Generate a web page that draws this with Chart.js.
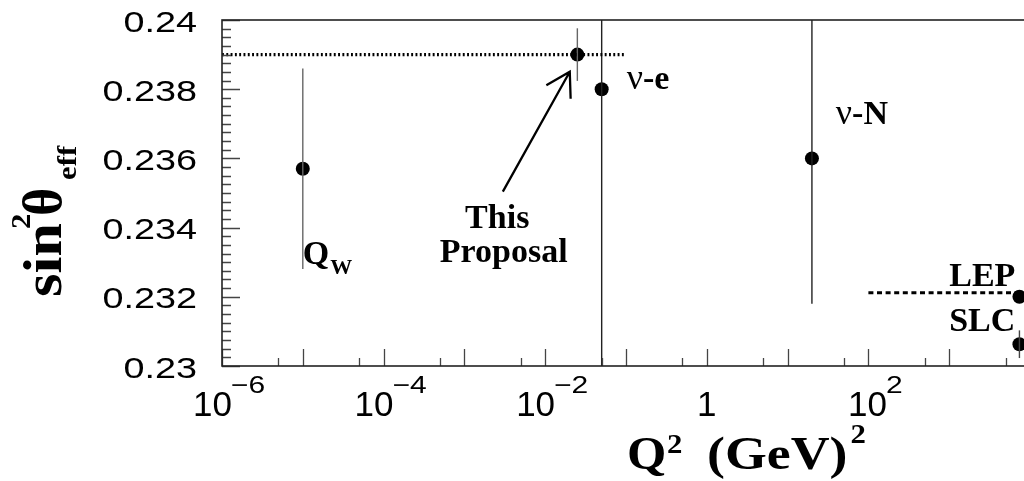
<!DOCTYPE html>
<html>
<head>
<meta charset="utf-8">
<script src="https://cdn.jsdelivr.net/npm/chart.js@4.4.0/dist/chart.umd.min.js"></script>
<style>
    html, body { margin: 0; padding: 0; background: #fff; overflow: hidden; }
    #wrap { width: 1040px; height: 481px; }
</style>
</head>
<body>
<div id="wrap"><canvas id="plot" width="1040" height="481"></canvas></div>
<script>
// measurements: Q^2 in GeV^2, sin^2(theta_eff) and its error
const names = ["Q_W", "This Proposal", "nu-e", "nu-N", "LEP", "SLC"];
const q2 = [1e-5, 0.025, 0.05, 20, 7400, 7400];
const sin2 = [0.2357, 0.239, 0.238, 0.236, 0.232, 0.23063];
const errs = [0.0029, 0.00076, 0.009, 0.0042, 0, 0.0004];

// reference lines
const proposalLineQ2 = [1e-6, 0.1];
const proposalLineVal = 0.239;
const lepLineQ2 = [100, 7400];
const lepLineVal = 0.23212;

// axes
const yTicks = [0.23, 0.232, 0.234, 0.236, 0.238, 0.24];
const yTickLabels = ["0.23", "0.232", "0.234", "0.236", "0.238", "0.24"];
const xDecades = [-6, -5, -4, -3, -2, -1, 0, 1, 2, 3, 4];
const xLabelExps = [-6, -4, -2, 0, 2];

const barColors = ["#666", "#666", "#222", "#222", "#222", "#444"];

function txt(ctx, s, x, y, font, sx, align) {
    ctx.save();
    ctx.font = font;
    ctx.textAlign = align || "left";
    ctx.textBaseline = "alphabetic";
    ctx.translate(x, y);
    ctx.scale(sx || 1, 1);
    ctx.fillText(s, 0, 0);
    const w = ctx.measureText(s).width * (sx || 1);
    ctx.restore();
    return w;
}

const serifB = px => "bold " + px + "px 'Liberation Serif', 'Times New Roman', serif";
const serif = px => px + "px 'Liberation Serif', 'Times New Roman', serif";
const sans = px => px + "px 'Liberation Sans', Arial, sans-serif";

const decorations = {
    id: "decorations",
    afterDatasetsDraw(chart) {
        const { ctx, chartArea: a, scales: { x, y } } = chart;
        const px = v => x.getPixelForValue(v);
        const py = v => y.getPixelForValue(v);
        ctx.save();

        // tick marks, drawn inward
        ctx.strokeStyle = "#444";
        ctx.lineWidth = 1.3;
        ctx.beginPath();
        for (let i = 0; i <= 40; i++) {
            const yy = Math.round(py(0.23 + i * 0.00025)) + 0.5;
            ctx.moveTo(a.left, yy);
            ctx.lineTo(a.left + (i % 8 === 0 ? 18 : 9), yy);
        }
        xDecades.forEach(e => {
            const xx = Math.round(px(Math.pow(10, e))) + 0.5;
            ctx.moveTo(xx, a.bottom);
            ctx.lineTo(xx, a.bottom - 17);
            const m = 5 * Math.pow(10, e);
            if (m < x.max) {
                const xm = Math.round(px(m)) + 0.5;
                ctx.moveTo(xm, a.bottom);
                ctx.lineTo(xm, a.bottom - 8);
            }
        });
        ctx.stroke();

        // frame
        ctx.strokeStyle = "#222";
        ctx.lineWidth = 1.6;
        ctx.strokeRect(a.left, a.top, a.right - a.left, a.bottom - a.top);

        ctx.fillStyle = "#000";

        // y tick labels
        yTicks.forEach((v, i) => {
            txt(ctx, yTickLabels[i], 197, py(v) + 11.5, sans(30), 1.26, "right");
        });

        // x tick labels: powers of ten
        xLabelExps.forEach(e => {
            const xx = px(Math.pow(10, e));
            if (e === 0) {
                txt(ctx, "1", xx, 416, sans(35), 1, "center");
                return;
            }
            const ex = e < 0 ? "\u2212" + (-e) : String(e);
            ctx.font = sans(35);
            const w1 = ctx.measureText("10").width;
            ctx.font = sans(24);
            const w2 = ctx.measureText(ex).width * 1.25;
            const left = xx + 7.5 - (w1 + w2) / 2;
            txt(ctx, "10", left, 416, sans(35));
            txt(ctx, ex, left + w1 - 1, 393, sans(24), 1.25);
        });

        // point labels
        let w = txt(ctx, "Q", px(1e-5), py(0.23295), serifB(34));
        txt(ctx, "W", px(1e-5) + w + 1, py(0.23295) + 10, serifB(22));
        txt(ctx, "This", px(2.55e-3), py(0.233988), serifB(34), 1, "center");
        txt(ctx, "Proposal", px(3.07e-3), py(0.233006), serifB(34), 1, "center");
        w = txt(ctx, "\u03bd", px(0.102), py(0.238006), serif(36));
        txt(ctx, "-e", px(0.102) + w, py(0.238006), serifB(34));
        w = txt(ctx, "\u03bd", px(39.5), py(0.236994), serif(36));
        txt(ctx, "-N", px(39.5) + w, py(0.236994), serifB(34));
        txt(ctx, "LEP", px(1000), py(0.232312), serifB(34));
        txt(ctx, "SLC", px(1000), py(0.231012), serifB(34));

        // arrow pointing at the proposed measurement
        const x0 = px(2.99e-3), y0 = py(0.235038);
        const x1 = px(0.02014), y1 = py(0.238506);
        const ang = Math.atan2(y0 - y1, x0 - x1);
        const hl = 27, spread = 31 * Math.PI / 180;
        ctx.strokeStyle = "#000";
        ctx.lineWidth = 2.3;
        ctx.beginPath();
        ctx.moveTo(x0, y0);
        ctx.lineTo(x1, y1);
        ctx.moveTo(x1 + hl * Math.cos(ang + spread), y1 + hl * Math.sin(ang + spread));
        ctx.lineTo(x1, y1);
        ctx.lineTo(x1 + hl * Math.cos(ang - spread), y1 + hl * Math.sin(ang - spread));
        ctx.stroke();

        // x axis title
        txt(ctx, "Q", 627, 469, serifB(46), 1.1);
        txt(ctx, "2", 667, 453, serifB(28), 1.1);
        w = txt(ctx, "(GeV)", 707, 469, serifB(46), 1.17);
        txt(ctx, "2", 707 + w + 3, 443, serifB(28), 1.1);

        // y axis title, rotated
        ctx.save();
        ctx.translate(61, 297);
        ctx.rotate(-Math.PI / 2);
        txt(ctx, "sin", 0, 0, serifB(54), 1.12);
        txt(ctx, "2", 68, -31, serifB(28), 1.1);
        txt(ctx, "\u03b8", 81, 0, serifB(54), 1.0);
        txt(ctx, "eff", 117, 15, serifB(28), 1.1);
        ctx.restore();

        ctx.restore();
    }
};

const datasets = [];

datasets.push({
    data: proposalLineQ2.map(v => ({ x: v, y: proposalLineVal })),
    showLine: true, borderColor: "#000", borderWidth: 3.4,
    borderDash: [1.9, 2.4], pointRadius: 0
});
datasets.push({
    data: lepLineQ2.map(v => ({ x: v, y: lepLineVal })),
    showLine: true, borderColor: "#000", borderWidth: 3,
    borderDash: [5, 3.6], pointRadius: 0
});

// vertical error bars
q2.forEach((q, i) => {
    if (!errs[i]) return;
    datasets.push({
        data: [{ x: q, y: sin2[i] - errs[i] }, { x: q, y: sin2[i] + errs[i] }],
        showLine: true, borderColor: barColors[i], borderWidth: 1.4, pointRadius: 0
    });
});

datasets.push({
    label: "measurements",
    data: q2.map((q, i) => ({ x: q, y: sin2[i] })),
    pointRadius: 7, pointBackgroundColor: "#000", pointBorderWidth: 0,
    showLine: false
});

new Chart(document.getElementById("plot").getContext("2d"), {
    type: "scatter",
    data: { datasets },
    options: {
        responsive: false,
        animation: false,
        devicePixelRatio: 1,
        layout: { padding: { left: 222, top: 20, right: 10, bottom: 115 } },
        plugins: { legend: { display: false }, tooltip: { enabled: false } },
        scales: {
            x: { type: "logarithmic", min: 1e-6, max: 1e4, display: false },
            y: { type: "linear", min: 0.23, max: 0.24, display: false }
        }
    },
    plugins: [decorations]
});
</script>
</body>
</html>
